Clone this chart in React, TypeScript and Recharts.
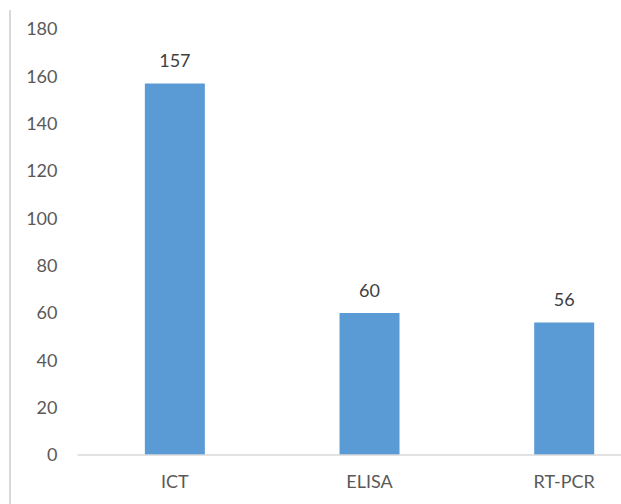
import { BarChart, Bar, XAxis, YAxis, LabelList } from 'recharts'

const categories = ['ICT', 'ELISA', 'RT-PCR']
const counts = [157, 60, 56]
const yTicks = [0, 20, 40, 60, 80, 100, 120, 140, 160, 180]

const data = categories.map((name, i) => ({ name, count: counts[i] }))

const font = 'Lato, "Open Sans", sans-serif'

const App = () => {
  return (
    <div style={{ position: 'fixed', left: 0, top: 0, width: 621, height: 504, overflow: 'hidden', background: '#fff' }}>
      {/* cropped border on the left */}
      <div style={{ position: 'absolute', left: 9, top: 10, width: 2, height: 494, background: '#d9d9d9' }} />
      <BarChart
        width={680}
        height={504}
        data={data}
        margin={{ top: 29, right: 18.5, bottom: 9, left: 0 }}
        barCategoryGap="34.6%"
      >
        <XAxis
          dataKey="name"
          height={40}
          tickLine={false}
          tickSize={0}
          tickMargin={20}
          axisLine={{ stroke: '#d9d9d9', strokeWidth: 1.5 }}
          tick={{ fill: '#595959', fontSize: 18, fontFamily: font }}
        />
        <YAxis
          width={77.5}
          domain={[0, 180]}
          ticks={yTicks}
          axisLine={false}
          tickLine={false}
          tickSize={0}
          tickMargin={20}
          tick={{ fill: '#595959', fontSize: 18, fontFamily: font }}
        />
        <Bar dataKey="count" fill="#5b9bd5" isAnimationActive={false}>
          <LabelList
            dataKey="count"
            position="top"
            offset={16}
            style={{ fill: '#404040', fontSize: 18, fontFamily: font }}
          />
        </Bar>
      </BarChart>
    </div>
  )
}

export default App
